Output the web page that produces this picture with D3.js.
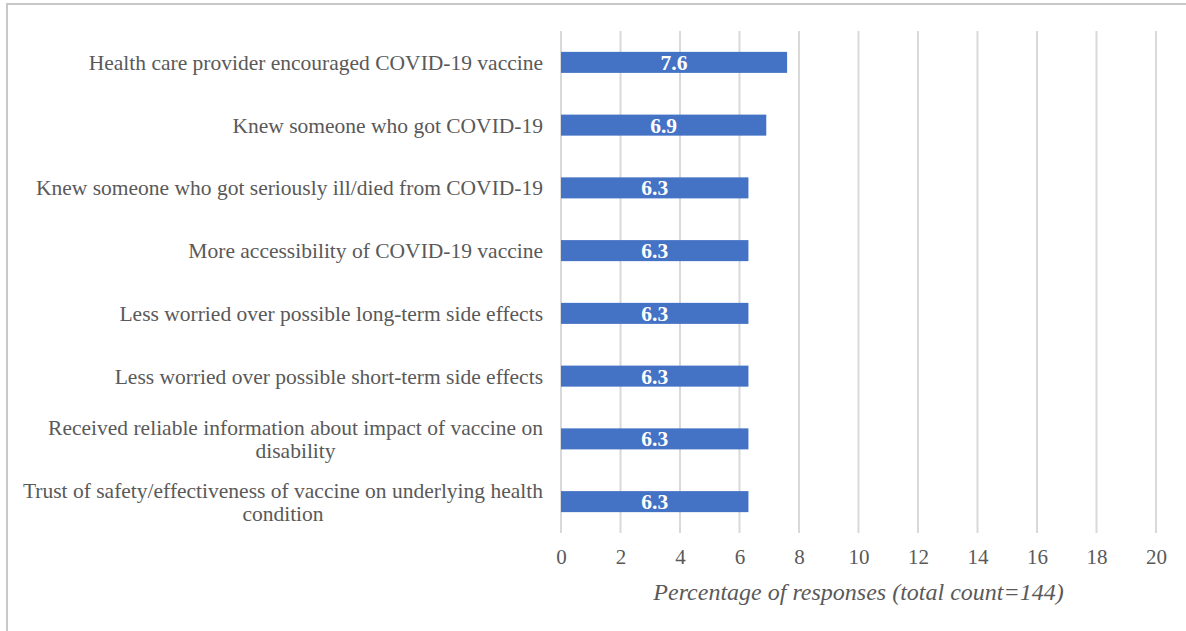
<!DOCTYPE html>
<html>
<head>
<meta charset="utf-8">
<script src="https://cdn.jsdelivr.net/npm/d3@7"></script>
<style>
  body { margin: 0; background: #fff; }
  text { font-family: "Liberation Serif", "Times New Roman", serif; }
</style>
</head>
<body>
<div class="chart"></div>
<script>
var svgWidth = 1186;
var svgHeight = 631;

// data
var categories = [
  ["Health care provider encouraged COVID-19 vaccine"],
  ["Knew someone who got COVID-19"],
  ["Knew someone who got seriously ill/died from COVID-19"],
  ["More accessibility of COVID-19 vaccine"],
  ["Less worried over possible long-term side effects"],
  ["Less worried over possible short-term side effects"],
  ["Received reliable information about impact of vaccine on", "disability"],
  ["Trust of safety/effectiveness of vaccine on underlying health", "condition"]
];
var values = [7.6, 6.9, 6.3, 6.3, 6.3, 6.3, 6.3, 6.3];
var xTicks = [0, 2, 4, 6, 8, 10, 12, 14, 16, 18, 20];
var xTitle = "Percentage of responses (total count=144)";

var margin = {top: 31, right: 30, bottom: 98, left: 561};
var width = 1156 - margin.left;
var height = 533 - margin.top;

var svg = d3.select(".chart")
  .append("svg")
  .attr("width", svgWidth)
  .attr("height", svgHeight);

// outer frame
svg.append("rect")
  .attr("x", 7)
  .attr("y", 4)
  .attr("width", svgWidth + 20)
  .attr("height", svgHeight + 20)
  .attr("fill", "none")
  .attr("stroke", "#c8c8c8")
  .attr("stroke-width", 2);

var chartGroup = svg.append("g")
  .attr("transform", `translate(${margin.left}, ${margin.top})`);

var xScale = d3.scaleLinear()
  .domain([0, 20])
  .range([0, width]);

var yScale = d3.scaleBand()
  .domain(d3.range(categories.length))
  .range([0, height])
  .paddingInner(0.665)
  .paddingOuter(0.3325);

// gridlines
chartGroup.append("g")
  .selectAll("line")
  .data(xTicks)
  .enter()
  .append("line")
  .attr("x1", d => xScale(d))
  .attr("x2", d => xScale(d))
  .attr("y1", 0)
  .attr("y2", height)
  .attr("stroke", "#d9d9d9")
  .attr("stroke-width", 2);

// x axis tick labels
var bottomAxis = d3.axisBottom(xScale)
  .tickValues(xTicks)
  .tickSize(0)
  .tickPadding(16);

var xAxis = chartGroup.append("g")
  .attr("transform", `translate(0, ${height})`)
  .call(bottomAxis);
xAxis.select(".domain").remove();
xAxis.selectAll("text")
  .attr("fill", "#595959")
  .style("font-size", "21px")
  .style("font-family", "Liberation Serif");

// bars
chartGroup.selectAll("rect.bar")
  .data(values)
  .enter()
  .append("rect")
  .attr("class", "bar")
  .attr("x", 0)
  .attr("y", (d, i) => yScale(i))
  .attr("width", d => xScale(d))
  .attr("height", yScale.bandwidth())
  .attr("fill", "#4472C4");

// value labels
chartGroup.selectAll("text.val")
  .data(values)
  .enter()
  .append("text")
  .attr("class", "val")
  .attr("x", d => xScale(d) / 2)
  .attr("y", (d, i) => yScale(i) + yScale.bandwidth() / 2)
  .attr("dy", "0.35em")
  .attr("text-anchor", "middle")
  .attr("fill", "#fff")
  .style("font-size", "21.5px")
  .style("font-weight", "bold")
  .text(d => d.toFixed(1));

// category labels (wrapped ones are centred like Excel does)
var labelRight = -18;
categories.forEach(function(lines, i) {
  var cy = yScale(i) + yScale.bandwidth() / 2;
  var g = chartGroup.append("g");
  var lineH = 23;
  var t = g.selectAll("text")
    .data(lines)
    .enter()
    .append("text")
    .attr("fill", "#595959")
    .style("font-size", "21.5px")
    .attr("dy", "0.35em")
    .text(d => d);
  var maxW = 0;
  t.each(function() { maxW = Math.max(maxW, this.getComputedTextLength()); });
  var y0 = cy - (lines.length - 1) * lineH / 2;
  if (lines.length === 1) {
    t.attr("x", labelRight).attr("y", y0).attr("text-anchor", "end");
  } else {
    t.attr("x", labelRight - maxW / 2)
      .attr("y", (d, j) => y0 + j * lineH)
      .attr("text-anchor", "middle");
  }
});

// axis title
chartGroup.append("text")
  .attr("x", width / 2)
  .attr("y", height + 59)
  .attr("dy", "0.35em")
  .attr("text-anchor", "middle")
  .attr("fill", "#595959")
  .style("font-size", "24px")
  .style("font-style", "italic")
  .text(xTitle);
</script>
</body>
</html>
